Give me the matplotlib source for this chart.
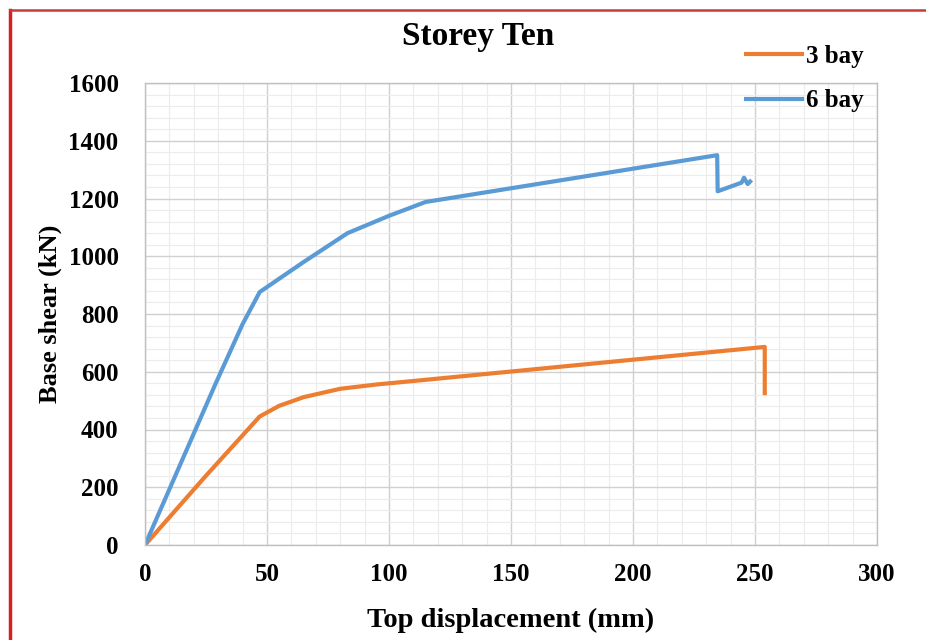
import matplotlib.pyplot as plt
from matplotlib.lines import Line2D
from matplotlib.ticker import MultipleLocator

# Pushover curves
disp_3bay = [0, 25, 47, 55, 65, 80, 95, 110, 254, 254]
shear_3bay = [0, 240, 445, 482, 512, 541, 556, 568, 686, 519]

disp_6bay = [0, 29, 40, 47, 65, 83, 100, 115, 234.5, 234.7, 244.5, 245.5, 247, 248.6]
shear_6bay = [0, 560, 765, 876, 980, 1080, 1140, 1188, 1350, 1225, 1255, 1272, 1250, 1264]

x_ticks = [0, 50, 100, 150, 200, 250, 300]
y_ticks = [0, 200, 400, 600, 800, 1000, 1200, 1400, 1600]

plt.rcParams['font.family'] = ['Liberation Serif', 'DejaVu Serif']
plt.rcParams['font.weight'] = 'bold'

fig = plt.figure(figsize=(9.26, 6.4), dpi=100)
ax = fig.add_axes([145 / 926, 1 - 545 / 640, (877 - 145) / 926, (545 - 83) / 640])

ax.plot(disp_3bay, shear_3bay, color='#ED7D31', lw=3, label='3 bay', solid_capstyle='butt')
ax.plot(disp_6bay, shear_6bay, color='#5B9BD5', lw=3, label='6 bay', solid_capstyle='butt')

ax.set_xlim(0, 300)
ax.set_ylim(0, 1600)
ax.set_xticks(x_ticks)
ax.set_yticks(y_ticks)
ax.xaxis.set_minor_locator(MultipleLocator(10))
ax.yaxis.set_minor_locator(MultipleLocator(40))
ax.grid(which='major', color='#d0d0d0', lw=1.0)
ax.grid(which='minor', color='#ececec', lw=0.8)
ax.set_axisbelow(True)
ax.tick_params(which='both', length=0, labelsize=18)
ax.tick_params(axis='x', pad=13)
ax.tick_params(axis='y', pad=19)
for sp in ax.spines.values():
    sp.set_color('#bfbfbf')
    sp.set_linewidth(1.0)

ax.set_xlabel('Top displacement (mm)', fontsize=20.5, fontweight='bold', labelpad=16)
ax.set_ylabel('Base shear (kN)', fontsize=19, fontweight='bold', labelpad=5)

fig.text(478 / 926, 1 - 37 / 640, 'Storey Ten', ha='center', va='center',
         fontsize=24, fontweight='bold')

fig.legend(loc='upper left', bbox_to_anchor=(744 / 926, 1 - 45 / 640), frameon=False,
           fontsize=18, handlelength=2.4, handletextpad=0.1, labelspacing=0.85,
           borderaxespad=0, borderpad=0)

# red frame around the picture (left and top edges)
fig.add_artist(Line2D([10 / 926, 10 / 926], [0, 1 - 10 / 640], color='#d42020', lw=2.5))
fig.add_artist(Line2D([10 / 926, 1], [1 - 10 / 640, 1 - 10 / 640], color='#c83a3a', lw=1.8))

fig.savefig('out.png', dpi=100)
